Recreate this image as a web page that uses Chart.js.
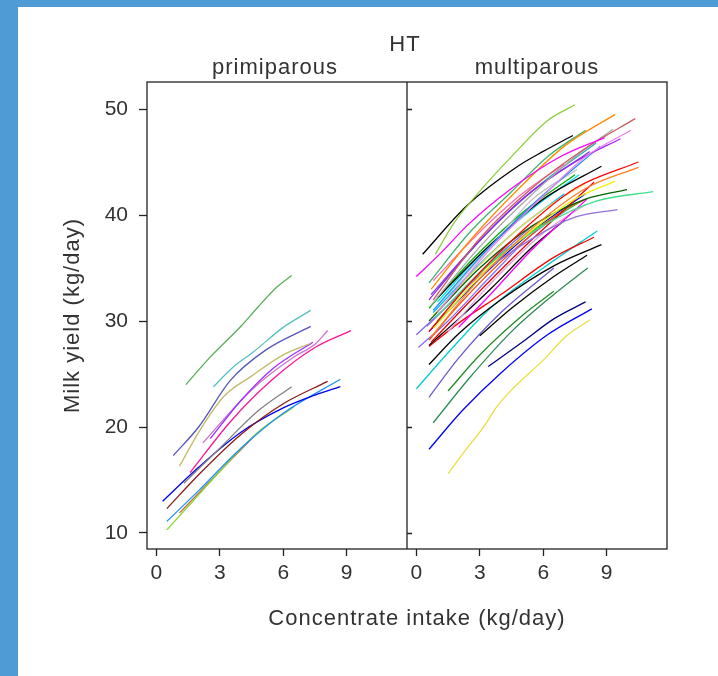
<!DOCTYPE html>
<html>
<head>
<meta charset="utf-8">
<script src="https://cdn.jsdelivr.net/npm/chart.js@4.4.1/dist/chart.umd.min.js"></script>
<style>
    html, body { margin: 0; padding: 0; }
    #page { position: relative; width: 718px; height: 676px; background: #4f9bd5; overflow: hidden; }
    #paper { position: absolute; left: 18px; top: 7px; right: 0; bottom: 0; background: #fff; }
    #chart { position: absolute; left: 0; top: 0; }
</style>
</head>
<body>
<div id="page">
    <div id="paper"></div>
    <canvas id="chart" width="718" height="676"></canvas>
</div>
<script>
const groupName = 'HT';
const panelNames = ['primiparous', 'multiparous'];
const xTitle = 'Concentrate intake (kg/day)';
const yTitle = 'Milk yield (kg/day)';
const xTickValues = [0, 3, 6, 9];
const yTickValues = [10, 20, 30, 40, 50];

// primiparous cows: concentrate intake (x) and milk yield (y), one row per cow
const priIntake = [
    [1.4, 2.5, 4.0, 4.8, 5.7, 6.4],
    [2.7, 3.6, 4.6, 6.0, 7.3],
    [0.8, 2.0, 3.5, 5.2, 7.3],
    [1.1, 2.0, 3.2, 4.5, 6.0, 7.3],
    [2.55, 4.0, 5.5, 7.4],
    [2.2, 4.5, 6.5, 7.5, 8.1],
    [1.6, 3.5, 5.5, 7.5, 9.2],
    [1.3, 3.0, 4.8, 6.4],
    [0.5, 2.0, 4.0, 6.0, 8.1],
    [0.3, 2.0, 4.0, 6.0, 7.5, 8.7],
    [0.5, 2.0, 4.0, 6.0, 8.7],
    [0.5, 1.5, 3.0, 4.8, 6.5],
    [1.1, 2.5, 4.6]
];
const priYield = [
    [24.0, 26.5, 29.5, 31.3, 33.2, 34.3],
    [23.8, 25.6, 27.1, 29.4, 31.0],
    [17.3, 20.0, 24.4, 27.3, 29.5],
    [16.3, 19.5, 22.9, 24.8, 26.8, 27.9],
    [18.9, 22.5, 25.5, 28.0],
    [18.5, 23.5, 26.6, 27.8, 29.1],
    [15.7, 20.5, 24.5, 27.5, 29.1],
    [14.7, 18.0, 21.5, 23.8],
    [12.3, 15.5, 19.3, 22.2, 24.3],
    [13.0, 16.2, 19.5, 21.8, 23.0, 23.8],
    [11.1, 14.0, 18.0, 21.3, 24.5],
    [10.3, 12.5, 15.8, 19.5, 21.9],
    [11.9, 14.8, 19.1]
];
const priColors = ['#5aae5a', '#55c0c0', '#5555bb', '#c2b968', '#9b30ff', '#d070d0', '#ff1493',
    '#808080', '#8b1a1a', '#0000ee', '#1e90ff', '#8fd42e', '#c0603a'];

// multiparous cows
const multiIntake = [
    [0.9, 1.8, 3.2, 4.4, 6.2, 7.5],
    [0.3, 2.4, 4.8, 6.0, 7.4],
    [0.0, 1.2, 2.4, 4.5, 6.8, 8.9],
    [0.7, 2.5, 4.8, 7.0, 9.4],
    [0.6, 2.5, 4.5, 6.2, 8.0],
    [0.8, 3.0, 5.5, 8.0, 10.35],
    [0.7, 3.0, 5.5, 7.5, 9.3],
    [1.0, 3.5, 6.0, 8.0, 10.15],
    [0.6, 2.5, 5.0, 7.5, 9.65],
    [0.8, 3.0, 5.5, 8.7],
    [0.7, 2.8, 5.2, 8.2],
    [1.0, 3.2, 5.8, 8.5],
    [1.5, 3.5, 5.5, 7.6],
    [1.0, 3.5, 6.0, 8.75],
    [0.6, 2.5, 5.0, 7.5],
    [0.8, 2.8, 5.0, 7.0],
    [0.6, 2.5, 5.0, 7.5, 10.5],
    [0.7, 3.0, 5.5, 8.0, 10.5],
    [0.8, 3.0, 5.5, 7.5, 9.4],
    [0.6, 3.0, 5.5, 8.0, 9.96],
    [0.9, 3.5, 6.0, 8.5, 11.2],
    [0.5, 3.0, 5.5, 7.5, 9.5],
    [0.7, 2.5, 5.0, 7.0, 8.4],
    [2.0, 3.5, 5.5, 8.07],
    [1.5, 3.5, 6.0, 8.0],
    [0.8, 3.0, 5.5, 8.0],
    [0.6, 2.0, 4.5, 7.0, 8.0],
    [1.0, 3.0, 5.5, 7.8],
    [0.6, 3.0, 5.5, 8.0],
    [1.0, 3.0, 5.5, 7.7],
    [0.8, 2.8, 5.0, 7.0],
    [0.6, 2.0, 3.5, 5.5, 7.0],
    [0.6, 2.0, 4.0, 6.5, 8.75],
    [3.0, 4.5, 6.5, 8.07],
    [0.6, 2.0, 4.0, 6.5, 8.4],
    [0.0, 1.5, 3.5, 6.0, 8.55],
    [0.6, 2.0, 4.0, 6.5],
    [0.8, 2.5, 4.5, 6.5, 8.1],
    [1.5, 3.0, 5.0, 6.5],
    [0.6, 2.2, 4.0, 6.2, 8.3],
    [3.4, 5.0, 6.5, 8.0],
    [1.5, 2.4, 3.2, 3.8, 4.6, 6.1, 7.1, 8.2],
    [0.0, 1.5, 3.5, 5.5],
    [0.1, 1.5, 3.5, 5.5, 7.5]
];
const multiYield = [
    [36.3, 39.3, 42.7, 45.3, 48.9, 50.4],
    [36.3, 40.9, 44.6, 46.0, 47.5],
    [34.2, 36.5, 39.0, 42.5, 45.5, 47.3],
    [33.0, 37.5, 42.4, 46.5, 49.5],
    [33.6, 38.3, 42.2, 45.5, 48.0],
    [32.0, 37.8, 42.6, 46.3, 49.1],
    [31.5, 37.0, 42.0, 45.5, 48.1],
    [30.8, 36.8, 41.8, 45.5, 48.0],
    [32.0, 36.5, 41.5, 45.0, 47.2],
    [31.0, 36.0, 41.0, 46.5],
    [32.5, 37.2, 41.8, 46.0],
    [33.0, 38.0, 42.8, 46.8],
    [32.5, 37.0, 41.5, 44.3],
    [32.2, 37.2, 41.5, 44.6],
    [31.2, 35.5, 40.2, 43.8],
    [33.8, 38.0, 42.0, 44.8],
    [29.0, 33.5, 38.5, 42.5, 45.0],
    [28.5, 34.0, 38.8, 42.5, 44.5],
    [29.3, 34.2, 38.6, 41.5, 43.2],
    [30.0, 35.0, 39.0, 41.5, 42.4],
    [30.3, 35.5, 39.0, 41.3, 42.2],
    [29.5, 34.3, 37.8, 39.8, 40.5],
    [28.0, 31.8, 36.8, 40.5, 43.1],
    [29.4, 32.5, 36.8, 41.5],
    [29.0, 33.5, 38.3, 41.0],
    [30.5, 35.3, 39.8, 43.0],
    [28.2, 31.5, 36.5, 40.5, 41.5],
    [30.0, 34.5, 38.5, 41.3],
    [29.0, 34.0, 38.5, 42.0],
    [31.8, 36.2, 40.6, 43.8],
    [30.8, 35.0, 39.0, 42.0],
    [27.7, 30.2, 33.0, 37.0, 39.5],
    [25.9, 28.8, 32.0, 35.2, 37.2],
    [28.6, 31.2, 34.2, 36.2],
    [27.6, 29.8, 32.5, 36.0, 37.9],
    [23.6, 27.0, 31.2, 35.0, 38.5],
    [22.8, 26.5, 30.8, 35.0],
    [20.4, 24.6, 29.0, 32.5, 35.0],
    [23.4, 26.8, 30.5, 32.8],
    [17.9, 21.6, 25.1, 28.7, 31.15],
    [25.7, 28.0, 30.2, 31.8],
    [15.6, 18.0, 20.05, 21.9, 23.7, 26.5, 28.6, 30.1],
    [28.7, 31.5, 35.5, 39.0],
    [27.5, 30.0, 34.2, 38.2, 41.0]
];
const multiColors = ['#8ccf3c', '#000000', '#ff00ff', '#ff8c00', '#3cb371', '#cd5c5c', '#a8a8a8',
    '#ee82ee', '#a020f0', '#1e90ff', '#7b3fe0', '#20b2aa', '#c0c0c0', '#000000', '#00b000',
    '#ff69b4', '#ff0000', '#ff7f24', '#f0f000', '#006400', '#3ee08a', '#9370db', '#ee0000',
    '#ff00ff', '#dda0dd', '#e6d85a', '#ff4500', '#32cd32', '#0000ff', '#00e5ee', '#00bfff',
    '#000000', '#000000', '#000000', '#ff0000', '#00ced1', '#6a5acd', '#2e8b57', '#228b22',
    '#0000ff', '#000080', '#e8e040', '#7b68ee', '#8470ff'];

const textColor = '#333333';
const fontFamily = '"Liberation Sans", Arial, sans-serif';

function toDatasets(intake, yields, colors, axisId) {
    return yields.map((ys, i) => ({
        data: ys.map((y, j) => ({ x: intake[i][j], y: y })),
        xAxisID: axisId,
        yAxisID: 'y',
        borderColor: colors[i],
        borderWidth: 1.3,
        pointRadius: 0,
        fill: false,
        cubicInterpolationMode: 'monotone'
    }));
}

function setTicks(values) {
    return scale => {
        scale.ticks = values.map(v => ({ value: v }));
    };
}

const tickFont = { family: fontFamily, size: 21 };

function xScale() {
    return {
        type: 'linear',
        position: 'bottom',
        stack: 'panels',
        min: -0.44,
        max: 11.85,
        afterBuildTicks: setTicks(xTickValues),
        afterFit: scale => { scale.height = 40; },
        grid: { drawOnChartArea: false, drawTicks: true, tickLength: 7, tickColor: '#222', tickWidth: 1.3 },
        border: { display: false },
        ticks: { font: tickFont, color: textColor, padding: 5, maxRotation: 0, autoSkip: false }
    };
}

// frame, divider and strip labels
const framePlugin = {
    id: 'frame',
    afterDatasetsDraw(chart) {
        const { ctx, chartArea, scales } = chart;
        const divider = scales.xR.left;
        ctx.save();
        ctx.strokeStyle = '#222';
        ctx.lineWidth = 1.3;
        ctx.strokeRect(chartArea.left, chartArea.top, chartArea.right - chartArea.left, chartArea.bottom - chartArea.top);
        ctx.beginPath();
        ctx.moveTo(divider, chartArea.top);
        ctx.lineTo(divider, chartArea.bottom);
        yTickValues.forEach(v => {
            const py = Math.round(scales.y.getPixelForValue(v)) + 0.5;
            ctx.moveTo(divider, py);
            ctx.lineTo(divider + 5, py);
        });
        ctx.stroke();

        ctx.fillStyle = textColor;
        ctx.font = '22px ' + fontFamily;
        ctx.letterSpacing = '1px';
        ctx.textAlign = 'center';
        ctx.textBaseline = 'alphabetic';
        ctx.fillText(groupName, (chartArea.left + chartArea.right) / 2 - 2, 51);
        ctx.fillText(panelNames[0], (scales.xL.left + scales.xL.right) / 2 - 2, 74);
        ctx.fillText(panelNames[1], (scales.xR.left + scales.xR.right) / 2, 74);
        ctx.fillText(xTitle, 417, 625);

        ctx.translate(73, (chartArea.top + chartArea.bottom) / 2);
        ctx.rotate(-Math.PI / 2);
        ctx.fillText(yTitle, 0, 6);
        ctx.restore();
    }
};

new Chart(document.getElementById('chart'), {
    type: 'line',
    data: {
        datasets: [
            ...toDatasets(priIntake, priYield, priColors, 'xL'),
            ...toDatasets(multiIntake, multiYield, multiColors, 'xR')
        ]
    },
    options: {
        responsive: false,
        animation: false,
        layout: { padding: { left: 0, right: 51, top: 82, bottom: 87 } },
        plugins: {
            legend: { display: false },
            tooltip: { enabled: false }
        },
        scales: {
            xL: xScale(),
            xR: xScale(),
            y: {
                type: 'linear',
                position: 'left',
                min: 8.49,
                max: 52.55,
                afterBuildTicks: setTicks(yTickValues),
                afterFit: scale => { scale.width = 147; },
                grid: { drawOnChartArea: false, drawTicks: true, tickLength: 8, tickColor: '#222', tickWidth: 1.3 },
                border: { display: false },
                ticks: { font: tickFont, color: textColor, padding: 11, autoSkip: false }
            }
        }
    },
    plugins: [framePlugin]
});
</script>
</body>
</html>
